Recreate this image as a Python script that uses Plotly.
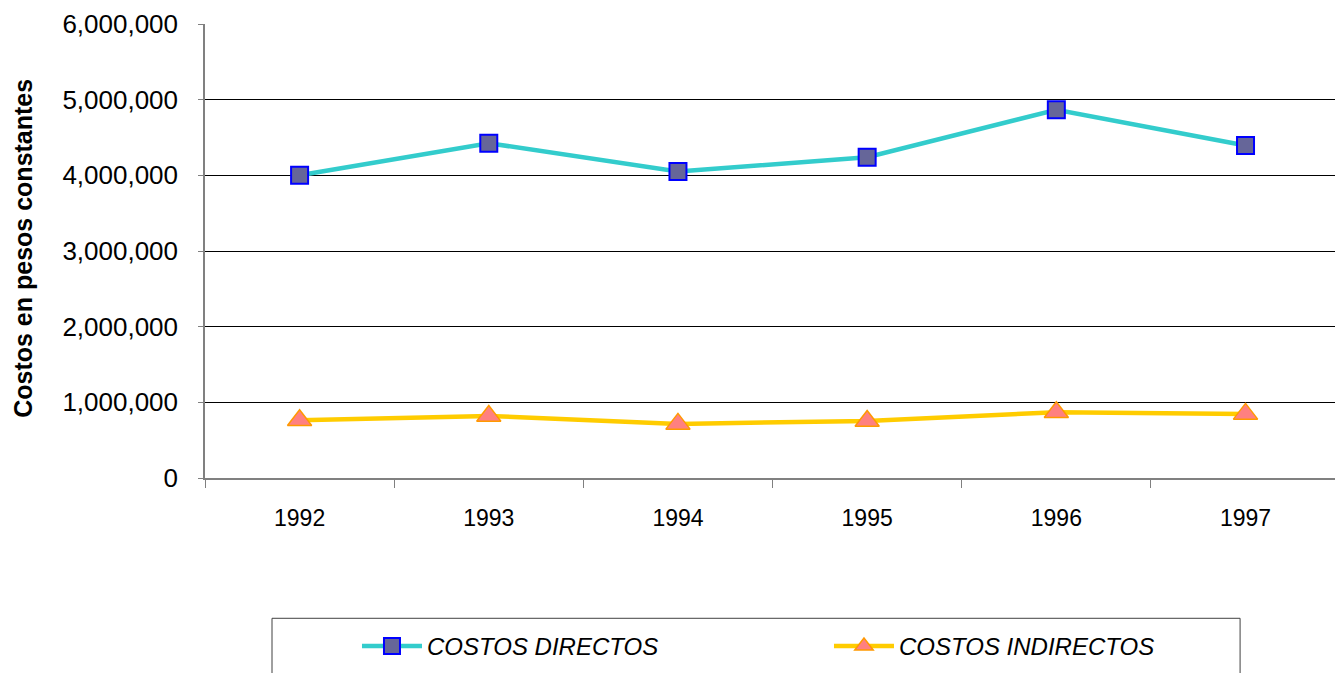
import plotly.graph_objects as go

years = ["1992", "1993", "1994", "1995", "1996", "1997"]
costos_directos = [4000000, 4425000, 4050000, 4240000, 4866000, 4395000]
costos_indirectos = [764000, 820000, 715000, 754000, 870000, 847000]
y_ticks = [0, 1000000, 2000000, 3000000, 4000000, 5000000, 6000000]

FONT = "Liberation Sans, Arial, sans-serif"
LEG_FONT = dict(family=FONT, size=24, style="italic", color="black")

fig = go.Figure()
fig.add_trace(go.Scatter(
    x=years, y=costos_directos, name="COSTOS DIRECTOS", mode="lines+markers",
    line=dict(color="#33CCCC", width=4.5),
    marker=dict(symbol="square", size=17, color="#666699",
                line=dict(color="#0000FF", width=2)),
    legend="legend",
))
fig.add_trace(go.Scatter(
    x=years, y=costos_indirectos, name="COSTOS INDIRECTOS", mode="lines+markers",
    line=dict(color="#FFCC00", width=4.5),
    marker=dict(symbol="triangle-up", size=21, color="#FF8080",
                line=dict(color="#FF9900", width=1.5)),
    legend="legend2",
))

fig.update_layout(
    width=1335, height=673,
    margin=dict(l=205, r=0, t=24, b=195),
    paper_bgcolor="white", plot_bgcolor="white",
    font=dict(family=FONT, color="black"),
    showlegend=True,
    legend=dict(
        x=0.1345, xanchor="left", y=-0.371, yanchor="middle",
        font=LEG_FONT, itemwidth=60, bgcolor="rgba(0,0,0,0)",
    ),
    legend2=dict(
        x=0.5522, xanchor="left", y=-0.371, yanchor="middle",
        font=LEG_FONT, itemwidth=60, bgcolor="rgba(0,0,0,0)",
    ),
    xaxis=dict(
        type="category", range=[-0.5, 5.473],
        tickson="boundaries", ticks="outside", ticklen=8, tickcolor="#808080",
        showline=True, linecolor="#808080", linewidth=1.5,
        showgrid=False, tickfont=dict(size=23, family=FONT),
        ticklabelstandoff=19,
    ),
    yaxis=dict(
        range=[0, 6000000], tickvals=y_ticks, tickformat=",d",
        ticks="outside", ticklen=5, tickcolor="#808080",
        showline=True, linecolor="#808080", linewidth=1.5,
        showgrid=True, gridcolor="black", gridwidth=1, zeroline=False,
        tickfont=dict(size=26, family=FONT), ticklabelstandoff=15,
    ),
    shapes=[dict(type="rect", xref="paper", yref="paper",
                 x0=0.0593, x1=0.916, y0=-0.309, y1=-0.6,
                 line=dict(color="#404040", width=1), fillcolor="rgba(0,0,0,0)")],
    annotations=[dict(text="<b>Costos en pesos constantes</b>", textangle=-90,
                      xref="paper", yref="paper", x=-0.161, y=0.505,
                      xanchor="center", yanchor="middle", showarrow=False,
                      font=dict(family=FONT, size=25, color="black"))],
)

fig.write_html("out.html", config={"displayModeBar": False},
               post_script="document.body.style.margin='0px';")
